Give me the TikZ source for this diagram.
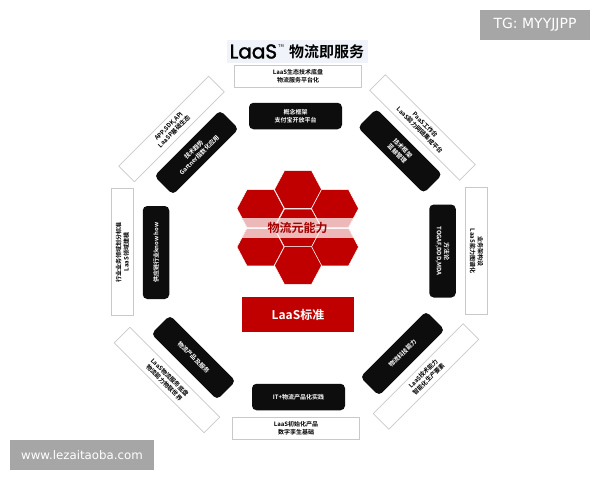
\documentclass[tikz,border=0pt]{standalone}
\usepackage{fontspec}
\setmainfont{Noto Sans CJK SC}[BoldFont={Noto Sans CJK SC Bold}]
\newfontfamily\latinfont{Poppins}[FakeBold=1.6]
\newfontfamily\tagfont{DejaVu Sans}
\definecolor{lzred}{HTML}{C00000}
\definecolor{lzblack}{HTML}{0D0D0D}
\definecolor{lzgrey}{HTML}{A6A6A6}
\definecolor{lzline}{HTML}{C9C9C9}
\definecolor{lzpale}{HTML}{F0F3F9}
\tikzset{
  whitebox/.style={draw=lzline,line width=0.7pt,fill=white,minimum width=127pt,minimum height=22pt,inner sep=0pt,align=center,font=\bfseries\fontsize{6}{7.6}\selectfont,text=black},
  blackbox/.style={draw=none,fill=lzblack,rounded corners=4.5pt,minimum width=93pt,minimum height=26.5pt,inner sep=0pt,align=center,font=\bfseries\fontsize{6}{7.6}\selectfont,text=white},
  tagbox/.style={fill=lzgrey,text=white,inner sep=0pt},
  hexa/.style={fill=lzred,draw=white,line width=0.5pt}
}
\newcommand{\hexpath}[2]{(#1-23.5,#2) -- (#1-13.5,#2-18.9) -- (#1+13.5,#2-18.9) -- (#1+23.5,#2) -- (#1+13.5,#2+18.9) -- (#1-13.5,#2+18.9) -- cycle}
\begin{document}
\begin{tikzpicture}[x=1pt,y=-1pt]
\useasboundingbox (0,0) rectangle (600,480);
\fill[white] (0,0) rectangle (600,480);
% watermarks
\node[tagbox,minimum width=110pt,minimum height=30pt,font=\tagfont\fontsize{14}{16}\selectfont] (tg) at (535,25) {TG: MYYJJPP};
\node[tagbox,minimum width=144pt,minimum height=30pt,font=\tagfont\fontsize{11.8}{14}\selectfont] (web) at (82,455) {www.lezaitaoba.com};
% title
\node[fill=lzpale,minimum width=141pt,minimum height=23pt,inner sep=0pt] (titlebg) at (297.5,51.5) {};
\node[anchor=west,inner sep=0pt,font=\latinfont\fontsize{20}{22}\selectfont] (laas) at (229.5,51.5) {LaaS};
\node[anchor=west,inner sep=0pt,font=\fontsize{4}{5}\selectfont] (tm) at (278,46) {TM};
\node[anchor=west,inner sep=0pt,font=\bfseries\fontsize{15}{17}\selectfont] (wl) at (289,52) {物流即服务};
% white boxes
\node[whitebox] (wt) at (298,76) {LaaS生态技术底盘\\物流服务平台化};
\node[whitebox,rotate=-45] (wtr) at (422.5,127.5) {PaaS工作台\\LaaS能力网链集成平台};
\node[whitebox,rotate=-90] (wr) at (476.5,251) {业务架构设\\LaaS能力图谱化};
\node[whitebox,rotate=45] (wbr) at (426,376.5) {LaaS技术能力\\智能化生产要素};
\node[whitebox] (wb) at (296,428.5) {LaaS初始化产品\\数字孪生基础};
\node[whitebox,rotate=-45] (wbl) at (167,380) {LaaS物流服务底盘\\物流能力物联世界};
\node[whitebox,rotate=90] (wl2) at (122.5,252) {行业业务领域划分标准\\LaaS领域建模};
\node[whitebox,rotate=45] (wtl) at (171.5,129) {APP,SDK,API\\LaaSP基础生态};
% black boxes
\node[blackbox] (bt) at (295.5,116) {概念框架\\支付宝开放平台};
\node[blackbox,rotate=-45] (btr) at (400,151) {技术框架\\蓝鲸管理};
\node[blackbox,rotate=-90] (br) at (442.5,251) {方法论\\TOGAF,DDD,MDA};
\node[blackbox,rotate=45] (bbr) at (402.5,353.5) {物流科技能力};
\node[blackbox] (bb) at (298.5,397) {IT+物流产品化实践};
\node[blackbox,rotate=-45] (bbl) at (193.5,357.5) {物流产品及服务};
\node[blackbox,rotate=90] (bl) at (156,252.5) {供应链行业know how};
\node[blackbox,rotate=45] (btl) at (196.5,152.5) {技术趋势\\Gartner指数化应用};
% hexagons
\foreach \hx/\hy in {298/189.5,260.5/208.5,335/208.5,298/228,260.5/247,335/247,298/265.5}{
  \path[hexa] \hexpath{\hx}{\hy};
}
% translucent band, only over the hexagons
\begin{scope}
\clip \hexpath{260.5}{208.5} \hexpath{335}{208.5} \hexpath{260.5}{247} \hexpath{335}{247} \hexpath{298}{228};
\fill[white,opacity=0.72] (230,218) rectangle (366,238);
\end{scope}
\draw[white,opacity=0.8,line width=1pt] (246,228) -- (350,228);
\node[inner sep=0pt,text=lzred!85!black,font=\bfseries\fontsize{12}{14}\selectfont] (core) at (297.5,228) {物流元能力};
% standard box
\node[fill=lzred,text=white,minimum width=112pt,minimum height=35pt,inner sep=0pt,font=\bfseries\fontsize{12}{14}\selectfont] (std) at (298,314.5) {LaaS标准};
\end{tikzpicture}
\end{document}
